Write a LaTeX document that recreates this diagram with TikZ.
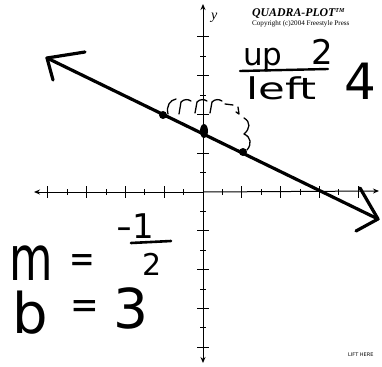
\documentclass[tikz,border=0pt]{standalone}
\usepackage{fontspec}
\usetikzlibrary{arrows.meta,shapes.geometric}
\newfontfamily\timesf{Liberation Serif}
\newfontfamily\hwf{DejaVu Sans}
\tikzset{
  axisline/.style={line width=1pt,-{Stealth[length=6pt,width=5pt]}},
  tickmark/.style={line width=0.8pt},
  mainline/.style={line width=3.2pt,line cap=round},
  barb/.style={line width=3.2pt,line cap=round,line join=round},
  pen/.style={line width=1.3pt,line cap=round,line join=round},
  dotmark/.style={fill=black,circle,inner sep=0pt,minimum size=8pt},
  hw/.style={inner sep=0pt,font=\hwf},
  eqsign/.style={hw,text height=12pt,text depth=0pt},
}
\begin{document}
\begin{tikzpicture}[x=1pt,y=-1pt]
\useasboundingbox (0,0) rectangle (382,366);
% axes
\coordinate (O) at (203,192);
\coordinate (xl) at (34,192);
\coordinate (xr) at (379,191);
\coordinate (yt) at (203,4);
\coordinate (yb) at (203,363);
\draw[axisline] (O) -- (xl);
\draw[axisline] (O) -- (xr);
\draw[axisline] (O) -- (yt);
\draw[axisline] (O) -- (yb);
\foreach \k in {-8,-6,-4,-2,2,4,6,8}{
  \draw[tickmark] (203+19.4*\k,186) -- (203+19.4*\k,198);
  \draw[tickmark] (197,192-19.4*\k) -- (209,192-19.4*\k);
}
\foreach \k in {-7,-5,-3,-1,1,3,5,7}{
  \draw[tickmark] (203+19.4*\k,189) -- (203+19.4*\k,195);
  \draw[tickmark] (200,192-19.4*\k) -- (206,192-19.4*\k);
}
% main line
\coordinate (A) at (47,58);
\coordinate (B) at (378,219);
\draw[mainline] (A) -- (B);
\draw[barb] (85,52) -- (A) -- (53,80);
\draw[barb] (360,188) -- (B) -- (356,231);
% points
\node[dotmark] (p1) at (163,115) {};
\node[dotmark] (p3) at (243,152) {};
\node[fill=black,ellipse,inner sep=0pt,minimum width=8pt,minimum height=14pt] (p2) at (204,131) {};
% squiggle marks
\draw[pen] (168,114) .. controls (166,106) and (170,100) .. (176,99);
\draw[pen] (179,114) -- (181,102) .. controls (184,99) and (188,99) .. (191,101);
\draw[pen] (195,113) -- (197,102) .. controls (200,99) and (204,99) .. (207,101);
\draw[pen] (210,113) -- (212,102) .. controls (215,99) and (219,99) .. (222,101);
\draw[pen] (225,104) -- (233,105);
\draw[pen] (238,107) -- (239,114) -- (236,112);
\draw[pen] (244,118) .. controls (251,122) and (250,129) .. (244,134)
  .. controls (251,137) and (252,144) .. (247,150);
% header
\node[anchor=base west,inner sep=0pt,font=\timesf\bfseries\itshape\fontsize{11.8}{13}\selectfont] (title) at (252,17) {QUADRA-PLOT\textsuperscript{\fontsize{6}{6}\selectfont TM}};
\node[anchor=base west,inner sep=0pt,font=\timesf\fontsize{7.1}{8}\selectfont] (copy) at (252,26) {Copyright (c)2004 Freestyle Press};
\node[anchor=base west,inner sep=0pt,font=\timesf\itshape\fontsize{14}{14}\selectfont] (ylab) at (211,20) {y};
\node[anchor=base west,inner sep=0pt,font=\hwf\fontsize{5}{5}\selectfont] (lift) at (348,356) {LIFT HERE};
% handwriting
\node[hw,anchor=base west,font=\hwf\fontsize{31}{31}\selectfont] (up) at (243,66) {up};
\node[hw,anchor=base west,font=\hwf\fontsize{34}{34}\selectfont] (two) at (311,65) {2};
\draw[pen,line width=2.4pt] (240,71) -- (328,69);
\node[hw,anchor=base west,font=\hwf\fontsize{30}{30}\selectfont] (left) at (246,100) {\scalebox{1.45}[1]{left}};
\node[hw,anchor=base west,font=\hwf\fontsize{50}{50}\selectfont] (four) at (344,100) {4};
\node[hw,anchor=base west,font=\hwf\fontsize{62}{62}\selectfont] (m) at (9,280) {\scalebox{0.72}[1]{m}};
\node[eqsign,anchor=base west,font=\hwf\fontsize{36}{36}\selectfont] (eq1) at (69,272) {\scalebox{0.85}[1.1]{=}};
\node[hw,anchor=base west,font=\hwf\fontsize{34}{34}\selectfont] (num) at (116,238) {\scalebox{1.3}[1]{-}1};
\draw[pen,line width=2.6pt] (131,243) -- (171,241);
\node[hw,anchor=base west,font=\hwf\fontsize{30}{30}\selectfont] (den) at (142,275) {2};
\node[hw,anchor=base west,font=\hwf\fontsize{56}{56}\selectfont] (b) at (12,333) {b};
\node[eqsign,anchor=base west,font=\hwf\fontsize{36}{36}\selectfont] (eq2) at (70,318) {\scalebox{0.95}[1.1]{=}};
\node[hw,anchor=base west,font=\hwf\fontsize{55}{55}\selectfont] (three) at (113,328) {3};
\end{tikzpicture}
\end{document}
